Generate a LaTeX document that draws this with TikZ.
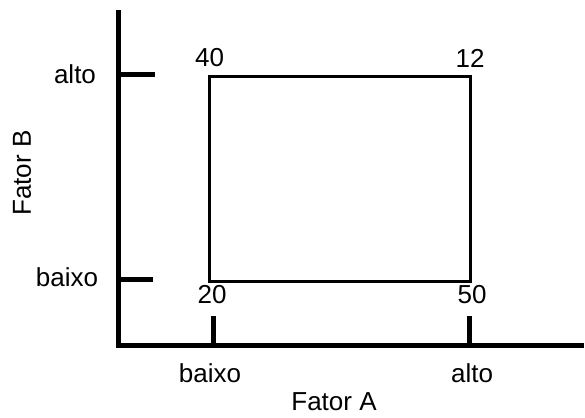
\documentclass[tikz,border=0pt]{standalone}
\usepackage{fontspec}
\setmainfont{Liberation Sans}
\begin{document}
\begin{tikzpicture}[x=1pt,y=-1pt,
  axisline/.style={line width=5pt},
  boxline/.style={line width=3pt, line join=miter},
  lab/.style={font=\fontsize{26}{30}\selectfont, inner sep=0pt}]
\useasboundingbox (0,0) rectangle (585,417);
% axes
\coordinate (ytop) at (118,10);
\coordinate (orig) at (118,345.5);
\coordinate (xend) at (584,345.5);
\draw[axisline] (ytop) -- (orig) -- (xend);
% ticks
\coordinate (ty1) at (118,75);
\coordinate (ty1e) at (155,75);
\coordinate (ty2) at (118,279);
\coordinate (ty2e) at (153,279);
\coordinate (tx1) at (213.5,345.5);
\coordinate (tx1e) at (213.5,316);
\coordinate (tx2) at (469.5,345.5);
\coordinate (tx2e) at (469.5,316);
\draw[axisline] (ty1) -- (ty1e);
\draw[axisline] (ty2) -- (ty2e);
\draw[axisline] (tx1) -- (tx1e);
\draw[axisline] (tx2) -- (tx2e);
% box
\coordinate (bl) at (209.5,281);
\coordinate (tr) at (470.5,77);
\draw[boxline] (bl) rectangle (tr);
% corner values
\node[lab] (v40) at (209.5,58) {40};
\node[lab] (v12) at (470,58) {12};
\node[lab] (v20) at (212,295) {20};
\node[lab] (v50) at (472,295) {50};
% axis labels
\node[lab] (ya) at (75,74) {alto};
\node[lab] (yb) at (67,277) {baixo};
\node[lab] (xb) at (210,373) {baixo};
\node[lab] (xa) at (472,373) {alto};
\node[lab] (fa) at (334,402) {Fator A};
\node[lab, rotate=90] (fb) at (22,173) {Fator B};
\end{tikzpicture}
\end{document}
